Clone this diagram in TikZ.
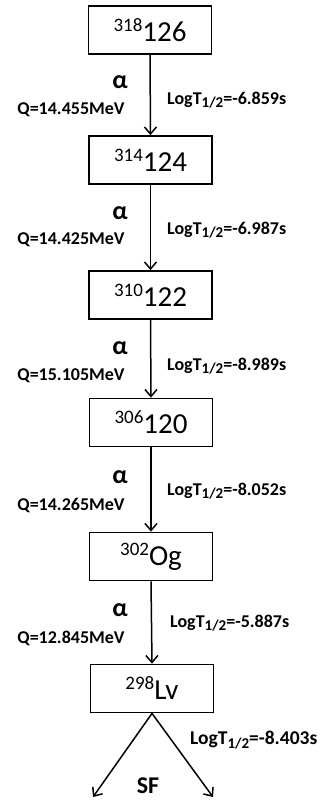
\documentclass[tikz,border=0pt]{standalone}
\usepackage{fontspec}
\setmainfont{Carlito}
\usetikzlibrary{arrows.meta}
\newcommand\mynuc[2]{{\fontsize{19}{19}\selectfont\raisebox{10pt}{#1}}#2}
\newcommand\mylogt[1]{LogT\raisebox{-3.5pt}{\fontsize{15}{15}\selectfont 1/2}=#1}
\begin{document}
\begin{tikzpicture}[x=1pt,y=-1pt,
  nuc/.style={draw, line width=1.8pt, minimum width=123pt, minimum height=48pt, inner sep=0pt, font=\fontsize{29}{29}\selectfont},
  lbl/.style={font=\bfseries\fontsize{18}{18}\selectfont, inner sep=0pt},
  alp/.style={font=\bfseries\fontsize{26}{26}\selectfont, inner sep=0pt},
  decay/.style={line width=1.5pt, -{Straight Barb[length=7pt,width=12pt,line width=1.5pt]}}]
\useasboundingbox (0,0) rectangle (326,808);
\node[nuc] (n1) at (150,30) {\mynuc{318}{126}};
\node[nuc] (n2) at (150.5,160) {\mynuc{314}{124}};
\node[nuc] (n3) at (150.5,295) {\mynuc{310}{122}};
\node[nuc] (n4) at (151,422.5) {\mynuc{306}{120}};
\node[nuc] (n5) at (151,556.5) {\mynuc{302}{Og}};
\node[nuc] (n6) at (152,688.5) {\mynuc{298}{Lv}};
\draw[decay] (n1.south) -- (n2.north);
\draw[decay] (n2.south) -- (n3.north);
\draw[decay] (n3.south) -- (n4.north);
\draw[decay] (n4.south) -- (n5.north);
\draw[decay] (n5.south) -- (n6.north);
% labels
\node[alp] (a1) at (120,82) {α};
\node[lbl] (q1) at (71,110) {Q=14.455MeV};
\node[lbl,anchor=west] (t1) at (167,100) {\mylogt{-6.859s}};
\node[alp] (a2) at (120,213) {α};
\node[lbl] (q2) at (71,240) {Q=14.425MeV};
\node[lbl,anchor=west] (t2) at (167,230) {\mylogt{-6.987s}};
\node[alp] (a3) at (120,348) {α};
\node[lbl] (q3) at (71,376) {Q=15.105MeV};
\node[lbl,anchor=west] (t3) at (167,366) {\mylogt{-8.989s}};
\node[alp] (a4) at (120,477) {α};
\node[lbl] (q4) at (71,505) {Q=14.265MeV};
\node[lbl,anchor=west] (t4) at (167,491) {\mylogt{-8.052s}};
\node[alp] (a5) at (120,610) {α};
\node[lbl] (q5) at (71,638) {Q=12.845MeV};
\node[lbl,anchor=west] (t5) at (170,623) {\mylogt{-5.887s}};
\node[lbl,anchor=west,font=\bfseries\fontsize{19.5}{19.5}\selectfont] (t6) at (190,740) {\mylogt{-8.403s}};
\node[font=\bfseries\fontsize{24}{24}\selectfont, inner sep=0pt] (sf) at (148,786) {SF};
\coordinate (e1) at (93,797);
\coordinate (e2) at (213,797);
\draw[decay] (n6.south) -- (e1);
\draw[decay] (n6.south) -- (e2);
\end{tikzpicture}
\end{document}
